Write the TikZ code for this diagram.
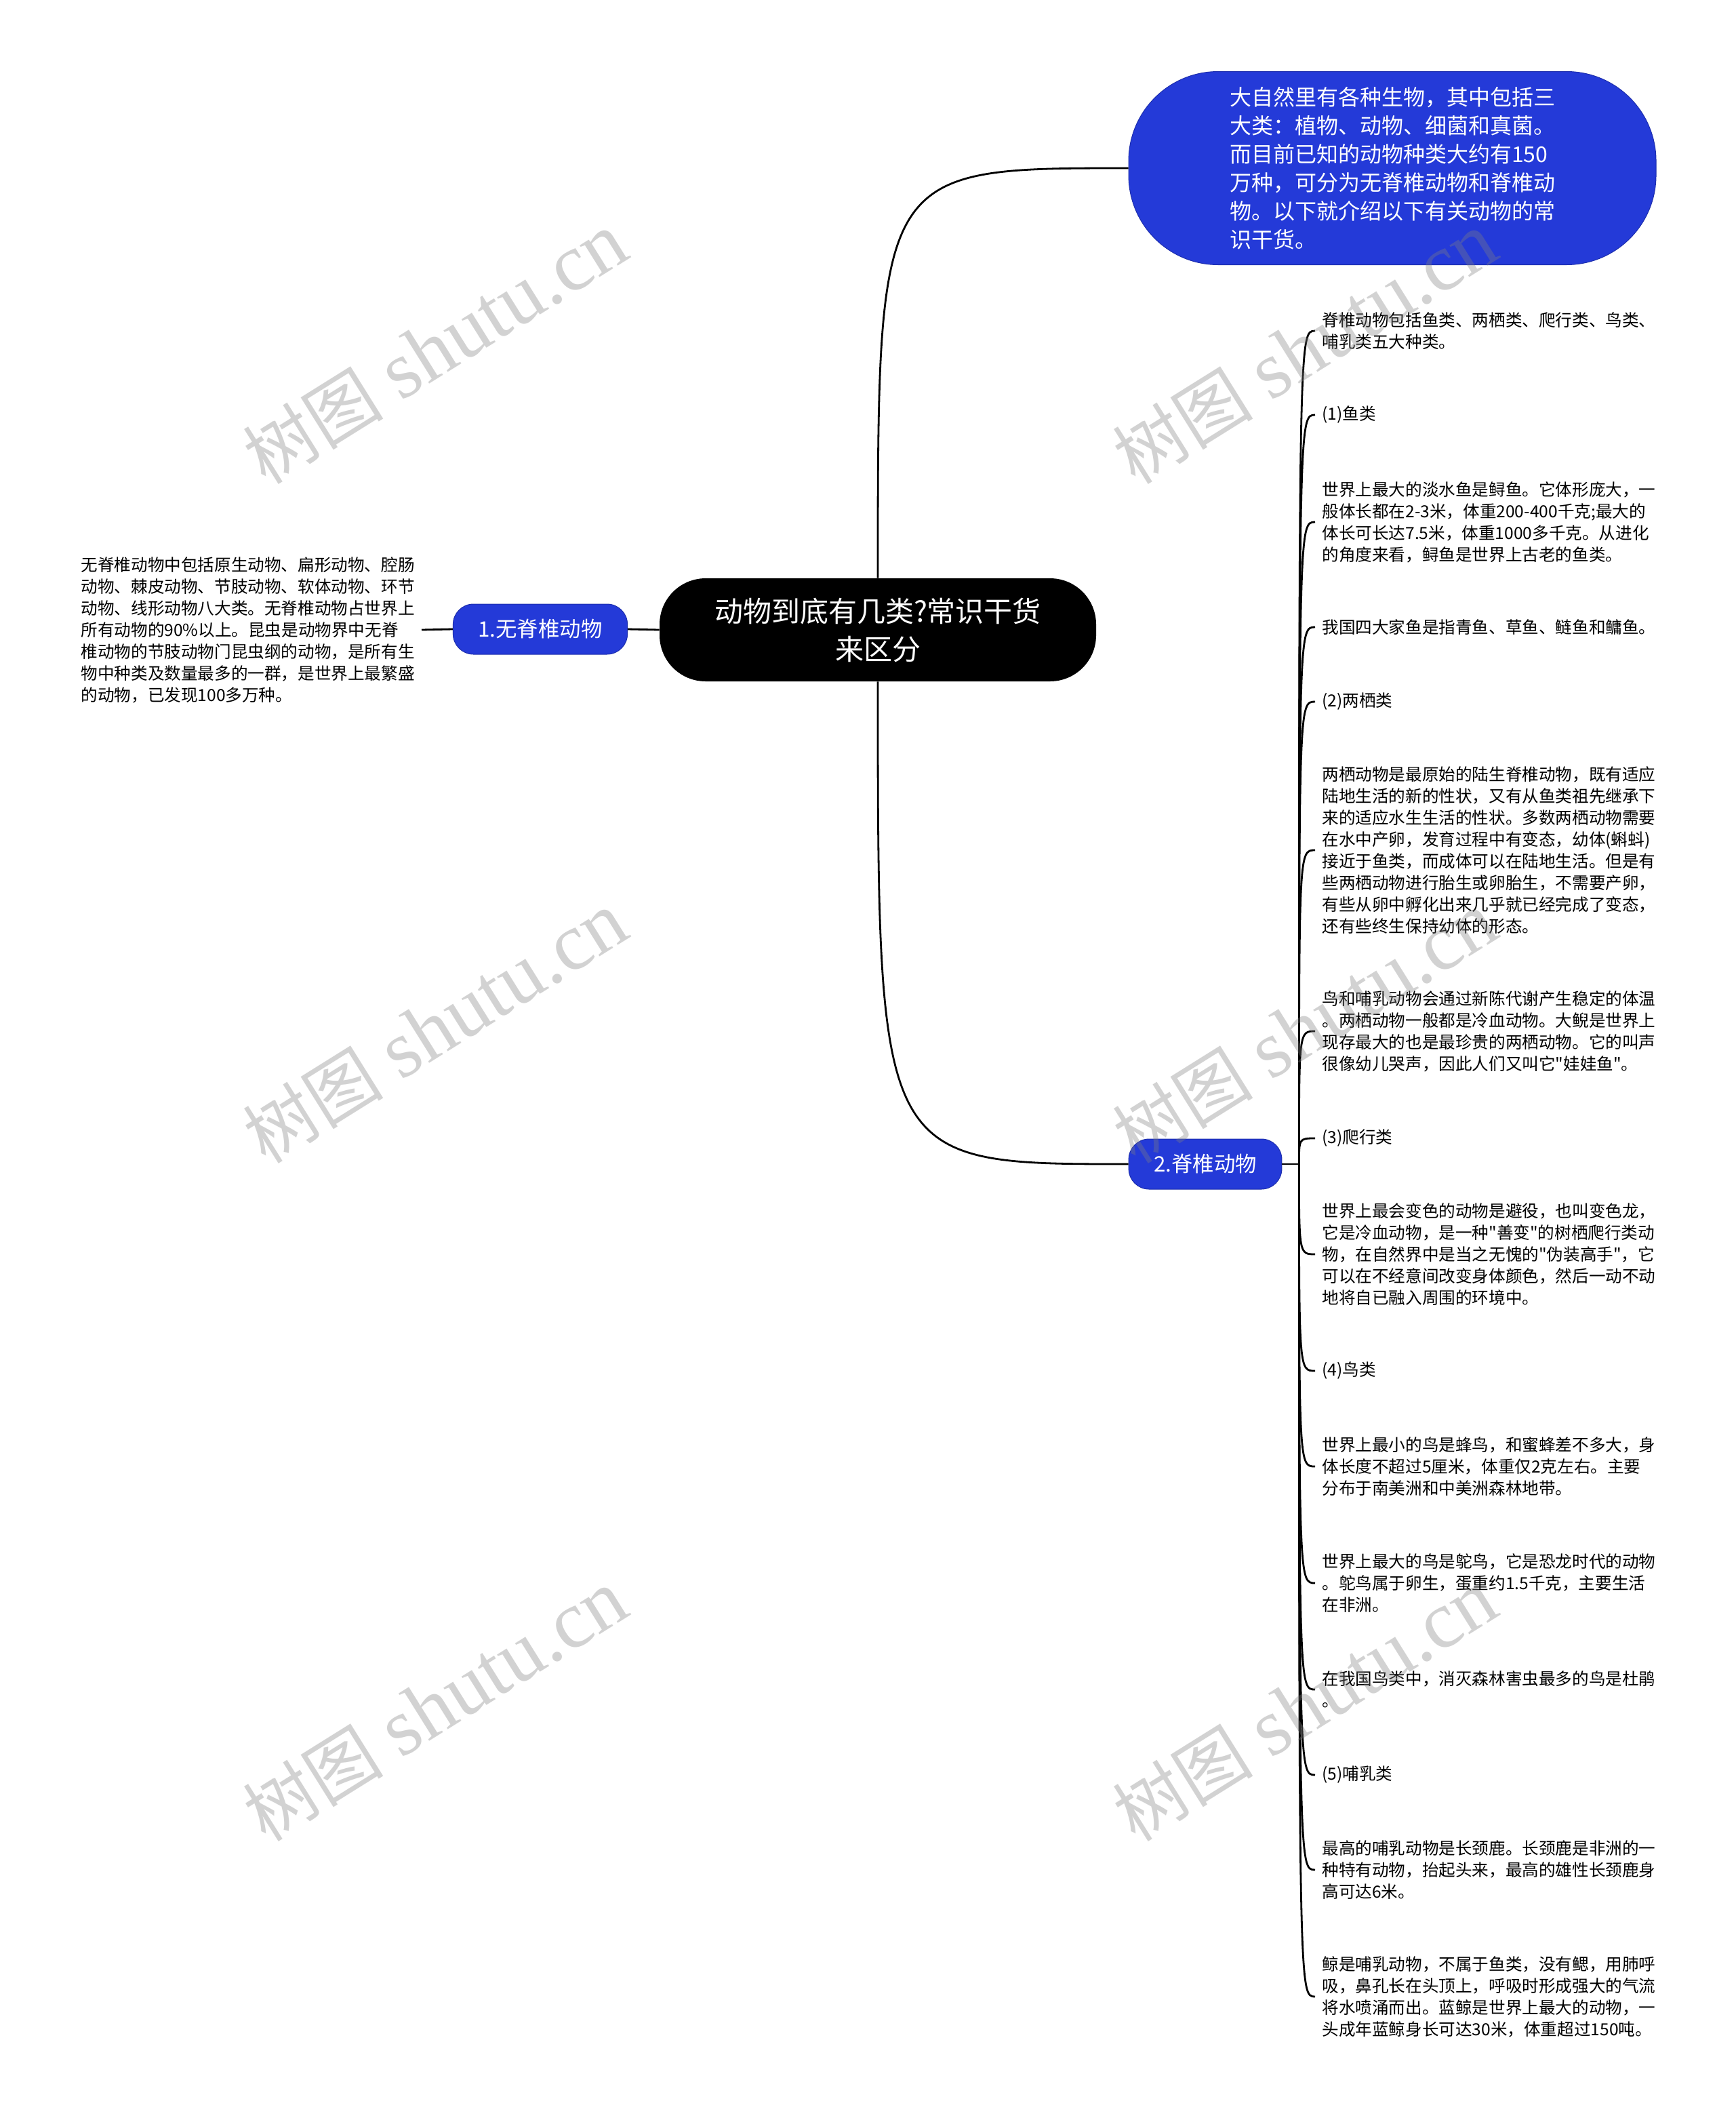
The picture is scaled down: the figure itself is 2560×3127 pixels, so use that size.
\documentclass[tikz,border=0pt]{standalone}
\usepackage{fontspec}
\setmainfont{Noto Sans CJK SC}
\newfontfamily\wmfont{Liberation Serif}
\definecolor{topicblue}{RGB}{36,58,216}

\begin{document}
\begin{tikzpicture}[x=.5pt,y=-.5pt,
  rootbox/.style={fill=black,text=white,align=center,rounded corners=34pt,
    minimum width=322pt,minimum height=76pt,font=\fontsize{21}{28}\selectfont},
  topic/.style={fill=topicblue,draw=topicblue!80!black,line width=.5pt,text=white,
    rounded corners=15pt,minimum height=37pt,inner xsep=18.5pt,font=\fontsize{15.7}{18}\selectfont},
  leaf/.style={align=left,inner xsep=5pt,inner ysep=0pt,font=\fontsize{12.3}{16}\selectfont},
  branch/.style={line width=1.4pt},
  wmark/.style={rotate=32,text=black!50,text opacity=.35,font=\fontsize{60}{60}\selectfont}]
  \useasboundingbox[fill=white] (0,0) rectangle (2560,3127);

  % centre and first level
  \node[rootbox] (root) at (1295,929) {动物到底有几类?常识干货\\来区分};
  \node[topic] (inv) at (797,928) {1.无脊椎动物};
  \node[topic] (vert) at (1778,1717) {2.脊椎动物};
  \node[fill=topicblue,draw=topicblue!80!black,line width=.5pt,text=white,text width=240pt,align=left,
    rounded corners=66pt,minimum width=389pt,minimum height=142.5pt,
    font=\fontsize{16}{21}\selectfont] (top) at (2054,248)
    {大自然里有各种生物，其中包括三\\大类：植物、动物、细菌和真菌。\\而目前已知的动物种类大约有150\\万种，可分为无脊椎动物和脊椎动\\物。以下就介绍以下有关动物的常\\识干货。};
  \node[leaf,anchor=east] (invtext) at (622,929)
    {无脊椎动物中包括原生动物、扁形动物、腔肠\\动物、棘皮动物、节肢动物、软体动物、环节\\动物、线形动物八大类。无脊椎动物占世界上\\所有动物的90\%以上。昆虫是动物界中无脊\\椎动物的节肢动物门昆虫纲的动物，是所有生\\物中种类及数量最多的一群，是世界上最繁盛\\的动物，已发现100多万种。};

  \draw[branch] (root.west) -- (inv.east);
  \draw[branch] (inv.west) -- (invtext.east);
  \draw[branch] (root.north) .. controls (root.north |- top.west) and (root.north |- top.west) .. (top.west);
  \draw[branch] (root.south) .. controls (root.south |- vert.west) and (root.south |- vert.west) .. (vert.west);
  \coordinate (hub) at ([xshift=12.5pt]vert.east);
  \draw[branch] (vert.east) -- (hub);

  % vertebrate leaves
  \foreach \i/\y/\txt in {
    1/488/{脊椎动物包括鱼类、两栖类、爬行类、鸟类、\\哺乳类五大种类。},
    2/612/{(1)鱼类},
    3/770/{世界上最大的淡水鱼是鲟鱼。它体形庞大，一\\般体长都在2-3米，体重200-400千克;最大的\\体长可长达7.5米，体重1000多千克。从进化\\的角度来看，鲟鱼是世界上古老的鱼类。},
    4/925/{我国四大家鱼是指青鱼、草鱼、鲢鱼和鳙鱼。},
    5/1035/{(2)两栖类},
    6/1254/{两栖动物是最原始的陆生脊椎动物，既有适应\\陆地生活的新的性状，又有从鱼类祖先继承下\\来的适应水生生活的性状。多数两栖动物需要\\在水中产卵，发育过程中有变态，幼体(蝌蚪)\\接近于鱼类，而成体可以在陆地生活。但是有\\些两栖动物进行胎生或卵胎生，不需要产卵，\\有些从卵中孵化出来几乎就已经完成了变态，\\还有些终生保持幼体的形态。},
    7/1521/{鸟和哺乳动物会通过新陈代谢产生稳定的体温\\。两栖动物一般都是冷血动物。大鲵是世界上\\现存最大的也是最珍贵的两栖动物。它的叫声\\很像幼儿哭声，因此人们又叫它\textquotedbl 娃娃鱼\textquotedbl 。},
    8/1679/{(3)爬行类},
    9/1850/{世界上最会变色的动物是避役，也叫变色龙，\\它是冷血动物，是一种\textquotedbl 善变\textquotedbl 的树栖爬行类动\\物，在自然界中是当之无愧的\textquotedbl 伪装高手\textquotedbl ，它\\可以在不经意间改变身体颜色，然后一动不动\\地将自已融入周围的环境中。},
    10/2022/{(4)鸟类},
    11/2163/{世界上最小的鸟是蜂鸟，和蜜蜂差不多大，身\\体长度不超过5厘米，体重仅2克左右。主要\\分布于南美洲和中美洲森林地带。},
    12/2335/{世界上最大的鸟是鸵鸟，它是恐龙时代的动物\\。鸵鸟属于卵生，蛋重约1.5千克，主要生活\\在非洲。},
    13/2492/{在我国鸟类中，消灭森林害虫最多的鸟是杜鹃\\。},
    14/2618/{(5)哺乳类},
    15/2758/{最高的哺乳动物是长颈鹿。长颈鹿是非洲的一\\种特有动物，抬起头来，最高的雄性长颈鹿身\\高可达6米。},
    16/2945/{鲸是哺乳动物，不属于鱼类，没有鳃，用肺呼\\吸，鼻孔长在头顶上，呼吸时形成强大的气流\\将水喷涌而出。蓝鲸是世界上最大的动物，一\\头成年蓝鲸身长可达30米，体重超过150吨。}}
  {
    \node[leaf,anchor=west] (lf\i) at (1940,\y) {\txt};
    \draw[branch] (hub) .. controls (hub |- lf\i.west) and (hub |- lf\i.west) .. (lf\i.west);
  }

  % watermarks
  \foreach \wx/\wy [count=\k] in {642/514,1925/514,642/1516,1925/1516,642/2516,1925/2516}
    \node[wmark] (wm\k) at (\wx,\wy) {{\fontsize{52}{52}\selectfont 树图} {\wmfont shutu.cn}};
\end{tikzpicture}
\end{document}
